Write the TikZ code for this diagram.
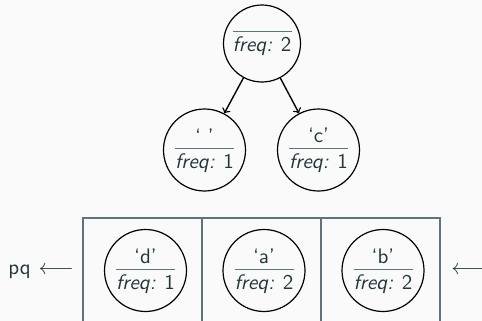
\documentclass[tikz,border=0pt]{standalone}
\renewcommand{\familydefault}{\sfdefault}
\definecolor{mDarkTeal}{HTML}{23373B}
\definecolor{boxc}{RGB}{95,115,120}
\definecolor{bgc}{HTML}{FAFAFA}
\newcommand{\fq}[2]{%
 \vbox{\offinterlineskip\halign{\hfil##\hfil\cr
  \vrule height 8pt depth 0pt width 0pt #1\cr
  \noalign{\kern 2.5pt}
  {\color{boxc}\vrule height 0.5pt width 29.5pt}\cr
  \noalign{\kern 2.5pt}
  \vrule height 6.5pt depth 2pt width 0pt\textit{freq:}\hspace{0.42em}#2\cr}}}
\newcommand{\fqe}[1]{%
 \vbox{\offinterlineskip\halign{\hfil##\hfil\cr
  {\color{boxc}\vrule height 0.5pt width 29.5pt}\cr
  \noalign{\kern 2.5pt}
  \vrule height 6.5pt depth 2pt width 0pt\textit{freq:}\hspace{0.42em}#1\cr}}}
\tikzset{
  hnode/.style={circle, draw=black, line width=0.6pt, minimum size=41pt, inner sep=0pt, text=mDarkTeal, font=\fontsize{10.5}{12}\selectfont},
  rootnode/.style={hnode, minimum size=38.5pt},
  cell/.style={rectangle, draw=boxc, line width=0.6pt, minimum width=59.5pt, minimum height=72pt, inner sep=0pt},
  edge/.style={-to, line width=0.7pt, black},
  lbl/.style={text=mDarkTeal, font=\fontsize{10.5}{12}\selectfont, inner sep=0pt}
}
\begin{document}
\begin{tikzpicture}[x=0.5pt,y=-0.5pt]
\fill[bgc] (0,0) rectangle (482,321);
\clip (0,0) rectangle (482,321);
% queue cells
\node[cell] (c1) at (142.5,290) {};
\node[cell] (c2) at (261.5,290) {};
\node[cell] (c3) at (380.5,290) {};
% tree
\node[rootnode] (root) at (262,43.5) {\fqe{2}};
\node[hnode] (sp) at (204.5,150) {\fq{‘ ’}{1}};
\node[hnode] (c) at (318.5,150) {\fq{‘c’}{1}};
\draw[edge] (root) -- (sp);
\draw[edge] (root) -- (c);
% queue contents
\node[hnode] (d) at (145.5,270.5) {\fq{‘d’}{1}};
\node[hnode] (a) at (264,270.5) {\fq{‘a’}{2}};
\node[hnode] (b) at (383,270.5) {\fq{‘b’}{2}};
% labels
\node[lbl, anchor=base west] (pq) at (8,274) {pq\hspace{4pt}$\longleftarrow$};
\node[lbl, anchor=base west] (in) at (451,274) {$\longleftarrow$};
\end{tikzpicture}
\end{document}
